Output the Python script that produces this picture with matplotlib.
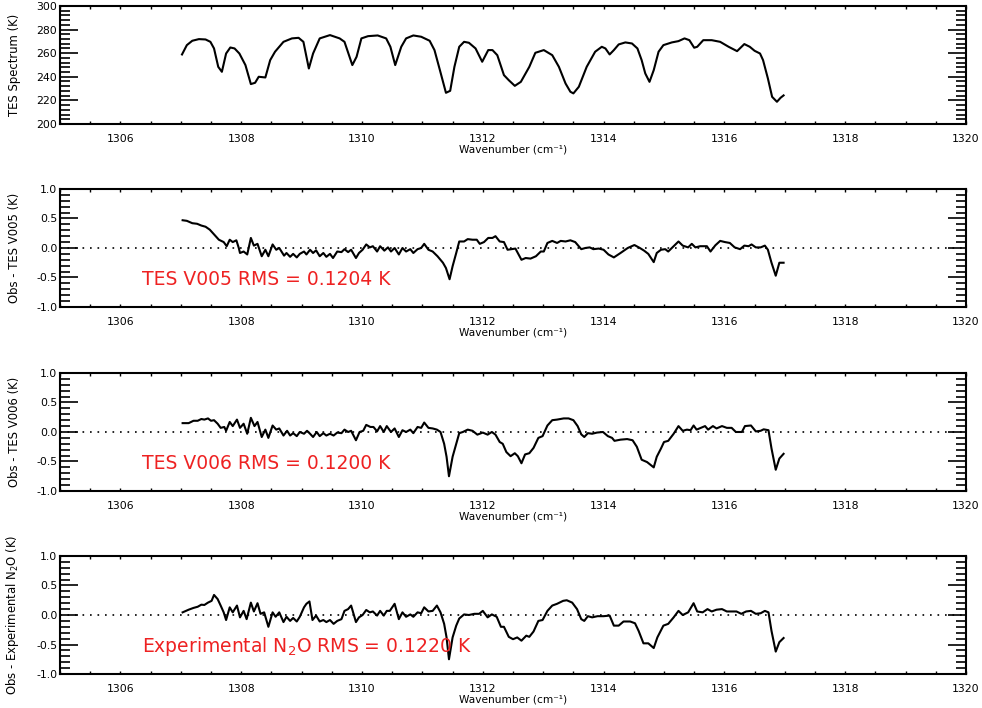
import matplotlib
matplotlib.use("Agg")
import matplotlib.pyplot as plt
from matplotlib.ticker import MultipleLocator, FormatStrFormatter

# TES spectrum (brightness temperature, K)
spec_wn = [1307.02, 1307.10, 1307.19, 1307.30, 1307.41, 1307.49, 1307.55, 1307.62, 1307.68, 1307.75,
           1307.82, 1307.89, 1307.97, 1308.07, 1308.16, 1308.23, 1308.29, 1308.40, 1308.48, 1308.56,
           1308.70, 1308.84, 1308.95, 1309.03, 1309.12, 1309.19, 1309.30, 1309.47, 1309.63, 1309.71,
           1309.84, 1309.91, 1309.99, 1310.10, 1310.26, 1310.40, 1310.47, 1310.55, 1310.65, 1310.73,
           1310.85, 1310.98, 1311.12, 1311.20, 1311.29, 1311.39, 1311.46, 1311.53, 1311.61, 1311.69,
           1311.77, 1311.88, 1311.99, 1312.09, 1312.16, 1312.24, 1312.35, 1312.43, 1312.53, 1312.63,
           1312.77, 1312.87, 1313.01, 1313.15, 1313.26, 1313.37, 1313.45, 1313.50, 1313.59, 1313.72,
           1313.86, 1313.97, 1314.03, 1314.10, 1314.17, 1314.25, 1314.36, 1314.47, 1314.56, 1314.63,
           1314.69, 1314.76, 1314.83, 1314.91, 1314.99, 1315.13, 1315.24, 1315.34, 1315.42, 1315.50,
           1315.55, 1315.65, 1315.79, 1315.93, 1316.07, 1316.21, 1316.33, 1316.42, 1316.50, 1316.59,
           1316.64, 1316.72, 1316.79, 1316.87, 1316.93, 1316.98]
spec_k = [258.9, 266.8, 270.5, 271.9, 271.6, 269.6, 264.0, 248.4, 244.2, 259.7,
          264.8, 264.0, 259.7, 249.9, 233.8, 234.9, 240.0, 239.4, 254.1, 261.2,
          269.6, 272.5, 273.0, 269.6, 247.0, 259.7, 272.5, 275.3, 272.5, 269.6,
          249.9, 256.9, 272.5, 274.4, 275.0, 272.5, 265.4, 249.9, 265.4, 272.5,
          275.0, 273.9, 270.5, 262.6, 245.6, 226.4, 228.1, 248.4, 265.4, 269.6,
          268.8, 264.0, 252.7, 262.6, 262.6, 258.3, 241.4, 237.1, 232.3, 235.7,
          248.4, 260.3, 262.6, 258.3, 248.4, 234.3, 227.3, 225.9, 231.5, 248.4,
          261.2, 265.4, 264.0, 258.9, 262.6, 267.4, 269.1, 268.2, 264.0, 254.1,
          242.8, 235.7, 245.6, 261.2, 266.8, 269.1, 270.2, 272.5, 271.0, 264.6,
          265.4, 271.0, 271.0, 269.6, 265.4, 261.7, 267.7, 265.4, 262.0, 259.7,
          254.1, 238.6, 223.0, 218.8, 222.2, 224.2]

# Obs - TES V005 residual
v005_wn = [1307.03, 1307.10, 1307.19, 1307.27, 1307.34, 1307.41, 1307.48, 1307.55, 1307.63, 1307.71,
           1307.76, 1307.81, 1307.86, 1307.92, 1307.96, 1307.98, 1308.04, 1308.10, 1308.16, 1308.21,
           1308.27, 1308.34, 1308.40, 1308.45, 1308.52, 1308.58, 1308.63, 1308.71, 1308.75, 1308.81,
           1308.86, 1308.92, 1308.97, 1309.04, 1309.08, 1309.14, 1309.19, 1309.24, 1309.30, 1309.36,
           1309.41, 1309.47, 1309.52, 1309.59, 1309.66, 1309.71, 1309.77, 1309.82, 1309.90, 1309.95,
           1310.01, 1310.07, 1310.13, 1310.18, 1310.25, 1310.30, 1310.37, 1310.43, 1310.48, 1310.54,
           1310.61, 1310.67, 1310.73, 1310.80, 1310.85, 1310.92, 1310.98, 1311.03, 1311.10, 1311.17,
           1311.25, 1311.34, 1311.39, 1311.45, 1311.50, 1311.56, 1311.61, 1311.69, 1311.75, 1311.83,
           1311.90, 1311.95, 1312.02, 1312.09, 1312.16, 1312.21, 1312.28, 1312.35, 1312.41, 1312.48,
           1312.54, 1312.64, 1312.71, 1312.79, 1312.88, 1312.96, 1313.01, 1313.07, 1313.15, 1313.23,
           1313.29, 1313.37, 1313.45, 1313.53, 1313.63, 1313.70, 1313.77, 1313.83, 1313.92, 1314.00,
           1314.08, 1314.17, 1314.28, 1314.40, 1314.51, 1314.60, 1314.67, 1314.74, 1314.83, 1314.88,
           1314.95, 1315.02, 1315.07, 1315.16, 1315.24, 1315.31, 1315.40, 1315.46, 1315.52, 1315.60,
           1315.71, 1315.77, 1315.85, 1315.93, 1316.01, 1316.09, 1316.17, 1316.26, 1316.33, 1316.40,
           1316.45, 1316.52, 1316.60, 1316.67, 1316.72, 1316.78, 1316.85, 1316.91, 1316.98]
v005_res = [0.47, 0.46, 0.42, 0.41, 0.38, 0.36, 0.31, 0.23, 0.14, 0.10,
            0.03, 0.14, 0.10, 0.13, 0.00, -0.085, -0.06, -0.11, 0.17, 0.04,
            0.07, -0.14, -0.03, -0.14, 0.06, -0.03, 0.00, -0.13, -0.085, -0.15,
            -0.10, -0.16, -0.10, -0.06, -0.11, -0.03, -0.085, -0.04, -0.14, -0.085,
            -0.15, -0.10, -0.17, -0.06, -0.07, -0.02, -0.07, -0.03, -0.17, -0.085,
            -0.03, 0.06, 0.01, 0.03, -0.06, 0.03, -0.045, 0.01, -0.06, 0.00,
            -0.11, 0.00, -0.06, -0.02, -0.085, -0.02, 0.00, 0.07, -0.03, -0.06,
            -0.14, -0.25, -0.34, -0.53, -0.31, -0.085, 0.11, 0.11, 0.15, 0.14,
            0.14, 0.07, 0.10, 0.17, 0.17, 0.20, 0.11, 0.10, -0.03, -0.02,
            -0.01, -0.20, -0.17, -0.18, -0.14, -0.06, -0.06, 0.085, 0.12, 0.085,
            0.12, 0.11, 0.13, 0.10, -0.02, 0.00, 0.01, -0.02, -0.01, -0.03,
            -0.11, -0.16, -0.085, 0.00, 0.05, 0.00, -0.045, -0.10, -0.24, -0.085,
            -0.03, -0.02, -0.06, 0.03, 0.11, 0.04, 0.01, 0.07, 0.01, 0.03,
            0.03, -0.06, 0.045, 0.12, 0.10, 0.085, 0.01, -0.02, 0.04, 0.03,
            0.06, 0.01, 0.01, 0.04, -0.03, -0.25, -0.47, -0.25, -0.25]

# Obs - TES V006 residual
v006_wn = [1307.03, 1307.13, 1307.21, 1307.28, 1307.34, 1307.39, 1307.45, 1307.50, 1307.55, 1307.61,
           1307.66, 1307.72, 1307.75, 1307.81, 1307.86, 1307.93, 1307.98, 1308.04, 1308.10, 1308.16,
           1308.22, 1308.27, 1308.34, 1308.40, 1308.45, 1308.52, 1308.58, 1308.63, 1308.70, 1308.76,
           1308.81, 1308.86, 1308.92, 1308.97, 1309.04, 1309.09, 1309.14, 1309.19, 1309.25, 1309.30,
           1309.36, 1309.41, 1309.47, 1309.53, 1309.59, 1309.66, 1309.71, 1309.77, 1309.82, 1309.90,
           1309.96, 1310.02, 1310.07, 1310.14, 1310.19, 1310.25, 1310.30, 1310.36, 1310.41, 1310.48,
           1310.54, 1310.61, 1310.67, 1310.73, 1310.80, 1310.85, 1310.92, 1310.98, 1311.03, 1311.10,
           1311.17, 1311.24, 1311.30, 1311.36, 1311.40, 1311.44, 1311.50, 1311.56, 1311.61, 1311.67,
           1311.75, 1311.83, 1311.91, 1312.00, 1312.08, 1312.15, 1312.21, 1312.28, 1312.33, 1312.39,
           1312.46, 1312.53, 1312.58, 1312.64, 1312.70, 1312.77, 1312.84, 1312.92, 1312.99, 1313.07,
           1313.15, 1313.23, 1313.34, 1313.42, 1313.50, 1313.57, 1313.63, 1313.68, 1313.74, 1313.81,
           1313.89, 1313.99, 1314.07, 1314.14, 1314.18, 1314.28, 1314.39, 1314.48, 1314.55, 1314.63,
           1314.72, 1314.83, 1314.88, 1314.95, 1315.00, 1315.07, 1315.16, 1315.24, 1315.31, 1315.38,
           1315.44, 1315.49, 1315.54, 1315.61, 1315.68, 1315.73, 1315.81, 1315.87, 1315.96, 1316.04,
           1316.12, 1316.19, 1316.29, 1316.34, 1316.44, 1316.52, 1316.60, 1316.65, 1316.73, 1316.78,
           1316.85, 1316.91, 1316.98]
v006_res = [0.15, 0.15, 0.19, 0.19, 0.22, 0.21, 0.23, 0.19, 0.20, 0.14,
            0.07, 0.085, 0.02, 0.17, 0.10, 0.21, 0.07, 0.14, -0.03, 0.24,
            0.10, 0.17, -0.085, 0.04, -0.10, 0.11, 0.04, 0.06, -0.06, 0.02,
            -0.06, -0.02, -0.07, 0.00, -0.03, 0.02, -0.03, -0.085, 0.00, -0.07,
            -0.02, -0.06, -0.03, -0.06, -0.01, -0.02, 0.04, 0.00, 0.02, -0.14,
            0.00, 0.02, 0.12, 0.085, 0.085, 0.01, 0.10, 0.00, 0.10, 0.00,
            0.06, -0.085, 0.03, 0.00, 0.04, -0.02, 0.085, 0.07, 0.16, 0.07,
            0.06, 0.04, 0.00, -0.20, -0.42, -0.75, -0.42, -0.20, -0.02, 0.00,
            0.04, 0.02, -0.045, -0.01, -0.045, 0.00, -0.045, -0.17, -0.20, -0.34,
            -0.41, -0.36, -0.41, -0.53, -0.38, -0.36, -0.27, -0.10, -0.07, 0.11,
            0.20, 0.21, 0.23, 0.23, 0.20, 0.10, -0.04, -0.085, -0.02, -0.03,
            -0.01, 0.00, -0.07, -0.10, -0.15, -0.13, -0.12, -0.14, -0.25, -0.47,
            -0.51, -0.60, -0.42, -0.28, -0.17, -0.15, -0.03, 0.10, 0.02, 0.04,
            0.03, 0.11, 0.04, 0.07, 0.10, 0.04, 0.10, 0.06, 0.10, 0.07,
            0.07, 0.00, 0.00, 0.10, 0.11, 0.01, 0.02, 0.045, 0.03, -0.28,
            -0.64, -0.45, -0.37]

# Obs - Experimental N2O residual
n2o_wn = [1307.03, 1307.13, 1307.21, 1307.28, 1307.34, 1307.39, 1307.45, 1307.51, 1307.55, 1307.61,
          1307.66, 1307.71, 1307.75, 1307.81, 1307.86, 1307.93, 1307.98, 1308.04, 1308.09, 1308.16,
          1308.21, 1308.27, 1308.32, 1308.38, 1308.45, 1308.52, 1308.57, 1308.63, 1308.70, 1308.75,
          1308.81, 1308.86, 1308.92, 1308.97, 1309.04, 1309.08, 1309.13, 1309.18, 1309.24, 1309.30,
          1309.36, 1309.41, 1309.47, 1309.53, 1309.59, 1309.66, 1309.71, 1309.77, 1309.82, 1309.90,
          1309.95, 1310.01, 1310.07, 1310.13, 1310.18, 1310.25, 1310.30, 1310.36, 1310.41, 1310.46,
          1310.54, 1310.61, 1310.67, 1310.73, 1310.80, 1310.85, 1310.92, 1310.98, 1311.03, 1311.10,
          1311.17, 1311.24, 1311.30, 1311.36, 1311.40, 1311.44, 1311.50, 1311.56, 1311.61, 1311.69,
          1311.77, 1311.86, 1311.94, 1312.00, 1312.08, 1312.15, 1312.23, 1312.30, 1312.35, 1312.43,
          1312.50, 1312.57, 1312.64, 1312.72, 1312.77, 1312.84, 1312.92, 1312.99, 1313.07, 1313.15,
          1313.23, 1313.33, 1313.39, 1313.48, 1313.56, 1313.63, 1313.68, 1313.74, 1313.81, 1313.90,
          1314.00, 1314.10, 1314.17, 1314.25, 1314.33, 1314.44, 1314.52, 1314.58, 1314.66, 1314.74,
          1314.83, 1314.89, 1314.99, 1315.07, 1315.16, 1315.24, 1315.31, 1315.40, 1315.49, 1315.55,
          1315.64, 1315.72, 1315.79, 1315.87, 1315.96, 1316.04, 1316.12, 1316.20, 1316.28, 1316.36,
          1316.44, 1316.52, 1316.60, 1316.67, 1316.73, 1316.78, 1316.85, 1316.91, 1316.98]
n2o_res = [0.045, 0.09, 0.12, 0.14, 0.175, 0.17, 0.21, 0.24, 0.34, 0.27,
           0.16, 0.045, -0.085, 0.13, 0.045, 0.16, -0.04, 0.07, -0.07, 0.21,
           0.06, 0.20, 0.02, 0.045, -0.20, 0.045, -0.03, 0.045, -0.12, -0.03,
           -0.10, -0.05, -0.11, -0.03, 0.13, 0.19, 0.23, -0.085, -0.01, -0.11,
           -0.085, -0.12, -0.085, -0.15, -0.10, -0.07, 0.07, 0.10, 0.16, -0.12,
           -0.04, 0.00, 0.085, 0.045, 0.06, -0.01, 0.07, -0.01, 0.07, 0.07,
           0.19, -0.07, 0.045, -0.03, 0.01, -0.03, 0.045, 0.03, 0.13, 0.06,
           0.07, 0.16, 0.045, -0.15, -0.38, -0.75, -0.38, -0.18, -0.06, 0.01,
           0.00, 0.02, 0.02, 0.07, -0.04, 0.01, -0.03, -0.20, -0.20, -0.37,
           -0.41, -0.38, -0.435, -0.35, -0.37, -0.28, -0.10, -0.085, 0.07, 0.16,
           0.19, 0.24, 0.25, 0.21, 0.10, -0.07, -0.10, -0.02, -0.04, -0.02,
           -0.02, -0.01, -0.18, -0.18, -0.11, -0.11, -0.14, -0.27, -0.48, -0.48,
           -0.56, -0.38, -0.18, -0.15, -0.04, 0.07, 0.00, 0.045, 0.20, 0.06,
           0.045, 0.10, 0.06, 0.09, 0.10, 0.06, 0.06, 0.06, 0.02, 0.06,
           0.07, 0.02, 0.03, 0.07, 0.045, -0.27, -0.62, -0.46, -0.39]

ylabels = ["TES Spectrum (K)",
           "Obs - TES V005 (K)",
           "Obs - TES V006 (K)",
           "Obs - Experimental N$_2$O (K)"]
rms_labels = ["TES V005 RMS = 0.1204 K",
              "TES V006 RMS = 0.1200 K",
              "Experimental N$_2$O RMS = 0.1220 K"]

RED = "#ee2222"
LEFT, WIDTH, HEIGHT = 0.0611, 0.9226, 0.1667
BOTTOMS = [0.8249, 0.5664, 0.3065, 0.048]


def style_axes(ax, ylo, yhi, ymajor, yminor, yfmt):
    ax.set_xlim(1305, 1320)
    ax.set_ylim(ylo, yhi)
    ax.xaxis.set_major_locator(MultipleLocator(2))
    ax.xaxis.set_minor_locator(MultipleLocator(0.5))
    ax.yaxis.set_major_locator(MultipleLocator(ymajor))
    ax.yaxis.set_minor_locator(MultipleLocator(yminor))
    ax.yaxis.set_major_formatter(FormatStrFormatter(yfmt))
    ax.tick_params(axis="y", which="major", direction="in", length=13, width=1.2,
                   left=True, right=True, labelsize=7.8, pad=2)
    ax.tick_params(axis="y", which="minor", direction="in", length=7, width=1.2,
                   left=True, right=True)
    ax.tick_params(axis="x", which="both", direction="in", length=2.5, width=1.0,
                   top=True, bottom=True, labelsize=7.8, pad=7)
    for sp in ax.spines.values():
        sp.set_linewidth(1.5)
    # unicode superscripts keep the label box compact
    ax.set_xlabel("Wavenumber (cm\u207b\u00b9)", fontsize=7.6)
    ax.xaxis.set_label_coords(0.5, -0.17)
    ax.xaxis.label.set_va("top")
    ax.yaxis.set_label_coords(-0.043, 0.5)


fig = plt.figure(figsize=(9.82, 7.08), dpi=100)

# top: spectrum
ax = fig.add_axes([LEFT, BOTTOMS[0], WIDTH, HEIGHT])
ax.plot(spec_wn, spec_k, color="k", lw=1.5)
style_axes(ax, 200, 300, 20, 4, "%d")
ax.set_ylabel(ylabels[0], fontsize=8.4)

# residual panels
residuals = [(v005_wn, v005_res), (v006_wn, v006_res), (n2o_wn, n2o_res)]
for i, (wn, res) in enumerate(residuals):
    ax = fig.add_axes([LEFT, BOTTOMS[i + 1], WIDTH, HEIGHT])
    ax.axhline(0, color="k", lw=1.2, ls=(0, (1, 3.5)))
    ax.plot(wn, res, color="k", lw=1.5)
    style_axes(ax, -1.0, 1.0, 0.5, 0.1, "%.1f")
    ax.set_ylabel(ylabels[i + 1], fontsize=8.4)
    ax.text(1306.36, -0.53, rms_labels[i], color=RED, fontsize=13.5, va="center")

fig.savefig("out.png", dpi=100)
